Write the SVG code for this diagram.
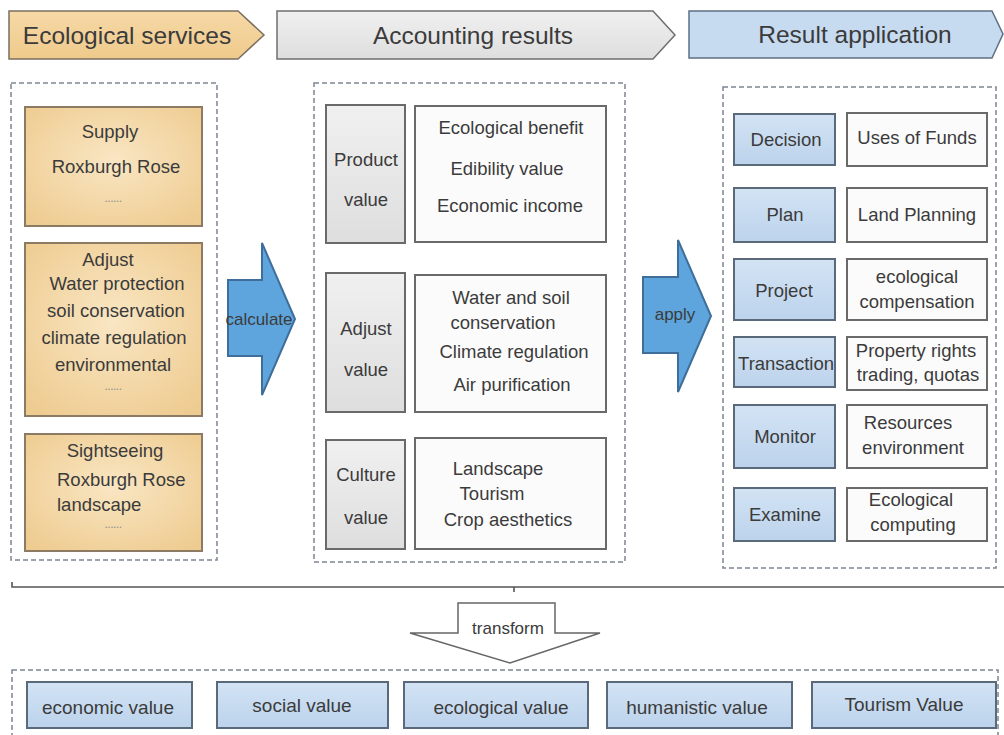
<svg xmlns="http://www.w3.org/2000/svg" width="1004" height="735" viewBox="0 0 1004 735">
  <defs>
    <radialGradient id="gOrange" cx="50%" cy="45%" r="70%">
      <stop offset="0" stop-color="#f9e6c3"/>
      <stop offset="1" stop-color="#eecb8f"/>
    </radialGradient>
    <linearGradient id="gBlue" x1="0" y1="0" x2="0" y2="1">
      <stop offset="0" stop-color="#d3e3f4"/>
      <stop offset="1" stop-color="#bcd3ec"/>
    </linearGradient>
    <linearGradient id="gGray" x1="0" y1="0" x2="0" y2="1">
      <stop offset="0" stop-color="#f0f0f0"/>
      <stop offset="1" stop-color="#dedede"/>
    </linearGradient>
    <linearGradient id="gHeadOrange" x1="0" y1="0" x2="0" y2="1">
      <stop offset="0" stop-color="#f6d9a6"/>
      <stop offset="1" stop-color="#efca8c"/>
    </linearGradient>
  </defs>
  <style>
    text { font-family: "Liberation Sans", Arial, sans-serif; fill: #3b3b3b; text-anchor: middle; }
    .h { font-size: 24.5px; }
    .t { font-size: 18.5px; }
    .s { font-size: 17px; }
    .b { font-size: 19px; }
    .dots { font-size: 12px; fill: #8f8f8f; letter-spacing: -0.5px; }
    .dash { fill: none; stroke: #7d8591; stroke-width: 1.5; stroke-dasharray: 5 3; }
    .orange { fill: url(#gOrange); stroke: #8c7b62; stroke-width: 2; }
    .gray { fill: url(#gGray); stroke: #6a6a6a; stroke-width: 2; }
    .white { fill: #fbfbfb; stroke: #6a6a6a; stroke-width: 2; }
    .blue { fill: url(#gBlue); stroke: #5b6a7b; stroke-width: 2; }
    .bigarrow { fill: #5ea5dd; stroke: #3f6e9a; stroke-width: 2; }
  </style>

  <rect width="1004" height="735" fill="#ffffff"/>

  <!-- stage banners -->
  <g id="head-services">
    <polygon points="9,11 238,11 264,35 238,59 9,59" fill="url(#gHeadOrange)" stroke="#7a6f60" stroke-width="1.5"/>
    <text class="h" x="127" y="44">Ecological services</text>
  </g>
  <g id="head-accounting">
    <polygon points="277,11 653,11 675,35 653,59 277,59" fill="url(#gGray)" stroke="#6f6f6f" stroke-width="1.5"/>
    <text class="h" x="473" y="44">Accounting results</text>
  </g>
  <g id="head-application">
    <polygon points="689,11 992,11 1003,34 992,58 689,58" fill="#c6daf0" stroke="#5e6f82" stroke-width="1.5"/>
    <text class="h" x="855" y="43">Result application</text>
  </g>

  <!-- ecological services column -->
  <g id="services">
    <rect class="dash" x="11" y="83" width="206" height="477"/>
    <g id="svc-supply">
      <rect class="orange" x="25" y="107" width="177" height="119"/>
      <text class="t" x="110" y="138">Supply</text>
      <text class="t" x="116" y="173">Roxburgh Rose</text>
      <text class="dots" x="113" y="202">......</text>
    </g>
    <g id="svc-adjust">
      <rect class="orange" x="25" y="243" width="177" height="173"/>
      <text class="t" x="108" y="266">Adjust</text>
      <text class="t" x="117" y="290">Water protection</text>
      <text class="t" x="116" y="317">soil conservation</text>
      <text class="t" x="114" y="344">climate regulation</text>
      <text class="t" x="113" y="371">environmental</text>
      <text class="dots" x="113" y="390">......</text>
    </g>
    <g id="svc-sightseeing">
      <rect class="orange" x="25" y="434" width="177" height="117"/>
      <text class="t" x="115" y="457">Sightseeing</text>
      <text class="t" x="57" y="486" style="text-anchor:start">Roxburgh Rose</text>
      <text class="t" x="57" y="511" style="text-anchor:start">landscape</text>
      <text class="dots" x="113" y="528">......</text>
    </g>
  </g>

  <!-- accounting results column -->
  <g id="accounting">
    <rect class="dash" x="314" y="83" width="311" height="479"/>
    <g id="acc-product">
      <rect class="gray" x="326" y="105" width="79" height="138"/>
      <text class="t" x="366" y="166">Product</text>
      <text class="t" x="366" y="206">value</text>
      <rect class="white" x="415" y="106" width="191" height="136"/>
      <text class="t" x="511" y="134">Ecological benefit</text>
      <text class="t" x="507" y="175">Edibility value</text>
      <text class="t" x="510" y="212">Economic income</text>
    </g>
    <g id="acc-adjust">
      <rect class="gray" x="326" y="273" width="79" height="139"/>
      <text class="t" x="366" y="335">Adjust</text>
      <text class="t" x="366" y="376">value</text>
      <rect class="white" x="415" y="275" width="191" height="137"/>
      <text class="t" x="511" y="304">Water and soil</text>
      <text class="t" x="503" y="329">conservation</text>
      <text class="t" x="514" y="358">Climate regulation</text>
      <text class="t" x="512" y="391">Air purification</text>
    </g>
    <g id="acc-culture">
      <rect class="gray" x="326" y="440" width="79" height="109"/>
      <text class="t" x="366" y="481">Culture</text>
      <text class="t" x="366" y="524">value</text>
      <rect class="white" x="415" y="438" width="191" height="111"/>
      <text class="t" x="498" y="475">Landscape</text>
      <text class="t" x="492" y="500">Tourism</text>
      <text class="t" x="508" y="526">Crop aesthetics</text>
    </g>
  </g>

  <!-- result application column -->
  <g id="application">
    <rect class="dash" x="723" y="87" width="273" height="481"/>
    <g id="app-decision">
      <rect class="blue" x="734" y="114" width="101" height="51"/>
      <text class="t" x="786" y="146">Decision</text>
      <rect class="white" x="847" y="113" width="140" height="53"/>
      <text class="t" x="917" y="144">Uses of Funds</text>
    </g>
    <g id="app-plan">
      <rect class="blue" x="734" y="188" width="101" height="54"/>
      <text class="t" x="785" y="221">Plan</text>
      <rect class="white" x="847" y="188" width="140" height="54"/>
      <text class="t" x="917" y="221">Land Planning</text>
    </g>
    <g id="app-project">
      <rect class="blue" x="734" y="259" width="101" height="61"/>
      <text class="t" x="784" y="297">Project</text>
      <rect class="white" x="847" y="259" width="140" height="61"/>
      <text class="t" x="917" y="283">ecological</text>
      <text class="t" x="917" y="308">compensation</text>
    </g>
    <g id="app-transaction">
      <rect class="blue" x="734" y="337" width="101" height="50"/>
      <text class="t" x="786" y="370">Transaction</text>
      <rect class="white" x="847" y="337" width="140" height="53"/>
      <text class="t" x="916" y="357">Property rights</text>
      <text class="t" x="918" y="381">trading, quotas</text>
    </g>
    <g id="app-monitor">
      <rect class="blue" x="734" y="405" width="101" height="63"/>
      <text class="t" x="785" y="443">Monitor</text>
      <rect class="white" x="847" y="405" width="140" height="63"/>
      <text class="t" x="908" y="429">Resources</text>
      <text class="t" x="913" y="454">environment</text>
    </g>
    <g id="app-examine">
      <rect class="blue" x="734" y="488" width="101" height="53"/>
      <text class="t" x="785" y="521">Examine</text>
      <rect class="white" x="847" y="488" width="140" height="53"/>
      <text class="t" x="911" y="506">Ecological</text>
      <text class="t" x="913" y="531">computing</text>
    </g>
  </g>

  <!-- value outcomes -->
  <g id="values">
    <rect class="dash" x="12" y="670" width="986" height="80"/>
    <g id="val-economic">
      <rect class="blue" x="27" y="682" width="165" height="46"/>
      <text class="b" x="108" y="714">economic value</text>
    </g>
    <g id="val-social">
      <rect class="blue" x="217" y="682" width="171" height="46"/>
      <text class="b" x="302" y="712">social value</text>
    </g>
    <g id="val-ecological">
      <rect class="blue" x="404" y="682" width="184" height="46"/>
      <text class="b" x="501" y="714">ecological value</text>
    </g>
    <g id="val-humanistic">
      <rect class="blue" x="607" y="682" width="185" height="46"/>
      <text class="b" x="697" y="714">humanistic value</text>
    </g>
    <g id="val-tourism">
      <rect class="blue" x="812" y="682" width="184" height="46"/>
      <text class="b" x="904" y="711">Tourism Value</text>
    </g>
  </g>

  <!-- connectors -->
  <g id="connectors">
    <g id="calc-arrow">
      <polygon class="bigarrow" points="228,280 262,280 262,243 295,319 262,395 262,356 228,356"/>
      <text class="s" x="259" y="325">calculate</text>
    </g>
    <g id="apply-arrow">
      <polygon class="bigarrow" points="643,277 678,277 678,240 711,316 678,392 678,353 643,353"/>
      <text class="s" x="675" y="320">apply</text>
    </g>
    <path d="M12,582 V587 H1004 M514,587 V592" fill="none" stroke="#555" stroke-width="1.6"/>
    <g id="transform-arrow">
      <polygon points="458,603 555,603 555,633 600,633 510,663 410,633 458,633" fill="#ffffff" stroke="#666" stroke-width="1.5"/>
      <text class="s" x="508" y="634">transform</text>
    </g>
  </g>
</svg>
